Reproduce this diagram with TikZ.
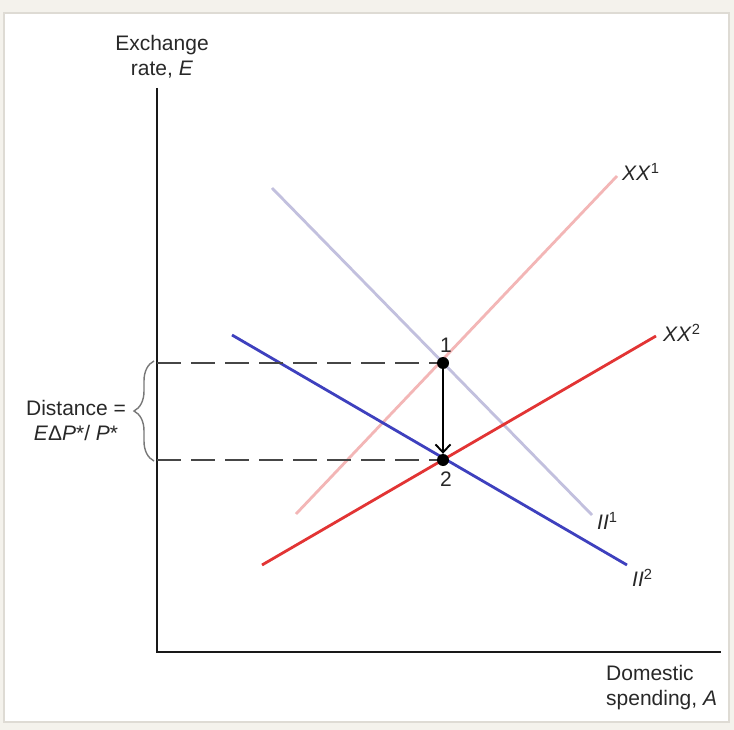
\documentclass[tikz,border=0pt]{standalone}
\usepackage{fontspec}
\setmainfont{Liberation Sans}
\usetikzlibrary{arrows.meta,decorations.pathreplacing}
\definecolor{outerbg}{RGB}{244,242,236}
\definecolor{panelline}{RGB}{222,219,212}
\definecolor{lpink}{RGB}{243,182,182}
\definecolor{lblue}{RGB}{194,192,222}
\definecolor{dred}{RGB}{226,52,52}
\definecolor{dblue}{RGB}{62,64,190}
\definecolor{dashgray}{RGB}{70,70,70}
\definecolor{bracegray}{RGB}{120,120,120}
\definecolor{txt}{RGB}{40,40,40}
\begin{document}
\begin{tikzpicture}[x=1pt,y=-1pt,
  lbl/.style={font=\fontsize{21}{25}\selectfont, text=txt, inner sep=0pt},
  curve/.style={line width=2.8pt},
  axisline/.style={line width=2.4pt, black!90},
  guide/.style={dashgray, line width=1.7pt, dash pattern=on 24pt off 10pt},
  dot/.style={circle, fill=black, minimum size=12pt, inner sep=0pt}]
\fill[outerbg] (0,0) rectangle (734,730);
\filldraw[fill=white, draw=panelline, line width=1.5pt] (4,13) rectangle (729,722);
\useasboundingbox (0,0) rectangle (734,730);

% axes
\coordinate (O) at (157,652);
\coordinate (Ytop) at (157,88);
\coordinate (Xend) at (721,652);
\draw[axisline] (Ytop) -- (O) -- (Xend);

% curve endpoints
\coordinate (IIa) at (272,188);  \coordinate (IIb) at (592,515);
\coordinate (XXa) at (296,514);  \coordinate (XXb) at (617,176);
\coordinate (IIc) at (232,335);  \coordinate (IId) at (627,565);
\coordinate (XXc) at (262,565);  \coordinate (XXd) at (656,336);

\draw[curve, lblue] (IIa) -- (IIb);
\draw[curve, lpink] (XXa) -- (XXb);
\draw[curve, dblue] (IIc) -- (IId);
\draw[curve, dred] (XXc) -- (XXd);

% points
\node[dot] (p1) at (443,363) {};
\node[dot] (p2) at (443,460) {};

% dashed guides
\coordinate (y1) at (157,363);
\coordinate (y2) at (157,460);
\draw[guide] (y1) -- (p1);
\draw[guide] (y2) -- (p2);

% arrow
\draw[line width=1.9pt, -{Straight Barb[length=8pt,width=15pt]}] (p1) -- (p2);

% brace
\coordinate (b1) at (154,461);
\coordinate (b2) at (154,361);
\draw[bracegray, line width=1.4pt, decorate, decoration={brace, amplitude=20pt}] (b1) -- (b2);

% labels
\node[lbl, align=center] (ylab) at (162,57) {Exchange\\rate, \textit{E}};
\node[lbl, align=left, anchor=west] (xlab) at (606,688) {Domestic\\spending, \textit{A}};
\node[lbl, align=center] (dist) at (76,420) {Distance =\\\textit{E}Δ\textit{P}*/ \textit{P}*};
\node[lbl, anchor=west] (lxx1) at (622,172) {\textit{XX}\textsuperscript{1}};
\node[lbl, anchor=west] (lxx2) at (663,333) {\textit{XX}\textsuperscript{2}};
\node[lbl, anchor=west] (lii1) at (597,521) {\textit{II}\textsuperscript{1}};
\node[lbl, anchor=west] (lii2) at (632,578) {\textit{II}\textsuperscript{2}};
\node[lbl] (l1) at (446,345) {1};
\node[lbl] (l2) at (446,479) {2};
\end{tikzpicture}
\end{document}
